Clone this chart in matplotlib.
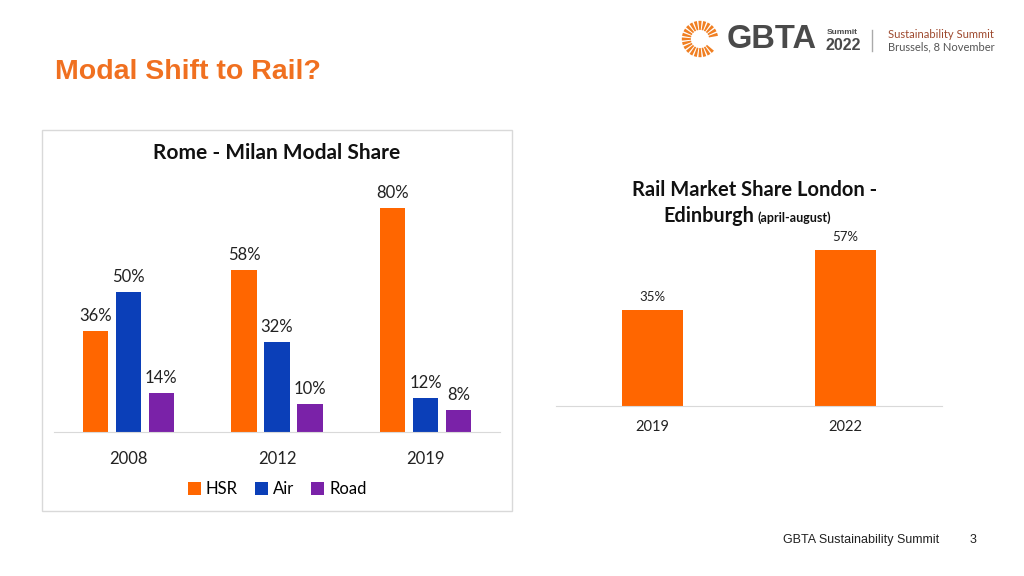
import matplotlib.pyplot as plt
import numpy as np
from matplotlib.patches import Rectangle, Wedge

# data
years = ["2008", "2012", "2019"]
modes = ["HSR", "Air", "Road"]
hsr = [36, 58, 80]
air = [50, 32, 12]
road = [14, 10, 8]

rail_years = ["2019", "2022"]
rail_share = [35, 57]

ORANGE = "#FF6600"
BLUE = "#0B3FB8"
PURPLE = "#7A22A8"
GRID = "#D9D9D9"
W, H = 1024, 576

plt.rcParams['font.family'] = ['Lato', 'DejaVu Sans']

fig = plt.figure(figsize=(W / 100, H / 100), dpi=100)
fig.patch.set_facecolor("white")


def px(x0, y0, x1, y1):
    # pixel box (top-left origin) -> figure fraction rect
    return [x0 / W, 1 - y1 / H, (x1 - x0) / W, (y1 - y0) / H]


# slide title
fig.text(55 / W, 1 - 72 / H, "Modal Shift to Rail?", color="#F07020", fontsize=20.5,
         fontweight="bold", family="Liberation Sans", va="center", ha="left")

# footer
fig.text(783 / W, 1 - 540 / H, "GBTA Sustainability Summit", fontsize=9,
         family="Liberation Sans", color="#222222", va="center")
fig.text(970 / W, 1 - 540 / H, "3", fontsize=9, family="Liberation Sans",
         color="#222222", va="center")

# logo
lax = fig.add_axes(px(680, 18, 720, 60))
lax.set_xlim(-1.1, 1.1)
lax.set_ylim(-1.15, 1.15)
lax.set_aspect("equal")
lax.axis("off")
for a in np.arange(0, 360, 15):
    if -40 < ((a + 180) % 360) - 180 < 10:
        continue
    lax.add_patch(Wedge((0, 0), 1.0, a - 5, a + 5, width=0.5, color="#F07F22", lw=0))
fig.text(727 / W, 1 - 40 / H, "GBTA", fontsize=23.5, fontweight="bold",
         family="Liberation Sans", color="#4A4A4A", va="center")
fig.text(827 / W, 1 - 32 / H, "Summit", fontsize=6, fontweight="bold",
         family="Liberation Sans", color="#4A4A4A", va="center")
fig.text(826 / W, 1 - 45 / H, "2022", fontsize=11.5, fontweight="bold",
         family="Liberation Sans", color="#4A4A4A", va="center")
fig.add_artist(plt.Line2D([872 / W, 872 / W], [1 - 30 / H, 1 - 51 / H],
                          color="#AAAAAA", lw=1))
fig.text(888 / W, 1 - 35 / H, "Sustainability Summit", fontsize=8,
         color="#9E4A2F", va="center")
fig.text(888 / W, 1 - 47 / H, "Brussels, 8 November", fontsize=8,
         color="#555555", va="center")

# left chart frame
fig.add_artist(Rectangle((42 / W, 1 - 511 / H), 470 / W, 381 / H,
                         transform=fig.transFigure, fill=False,
                         edgecolor=GRID, lw=1))

ax = fig.add_axes(px(54, 180, 500, 432))
x = np.arange(len(years))
bw = 0.172
off = 0.222
series = [(hsr, ORANGE), (air, BLUE), (road, PURPLE)]
for i, (vals, col) in enumerate(series):
    bars = ax.bar(x + (i - 1) * off, vals, width=bw, color=col, label=modes[i])
    for b, v in zip(bars, vals):
        ax.annotate(f"{v}%", (b.get_x() + b.get_width() / 2, v),
                    xytext=(0, 5), textcoords="offset points",
                    ha="center", va="bottom", fontsize=12, color="#222222")
ax.set_xlim(-0.5, 2.5)
ax.set_ylim(0, 90)
ax.set_xticks(x)
ax.set_xticklabels(years, fontsize=12, color="#222222")
ax.tick_params(axis="x", length=0, pad=14)
ax.set_yticks([])
for s in ["top", "right", "left"]:
    ax.spines[s].set_visible(False)
ax.spines["bottom"].set_color(GRID)
fig.text(277 / W, 1 - 153 / H, "Rome - Milan Modal Share", fontsize=15,
         fontweight="bold", ha="center", va="center", color="#111111")
fig.legend(loc="center", bbox_to_anchor=(277 / W, 1 - 489 / H), ncol=3,
           frameon=False, fontsize=12, handlelength=0.8, handleheight=0.8,
           handletextpad=0.3, columnspacing=1.0)

# right chart
ax2 = fig.add_axes(px(556, 235, 942, 406))
x2 = np.arange(len(rail_years))
bars = ax2.bar(x2, rail_share, width=0.317, color=ORANGE)
for b, v in zip(bars, rail_share):
    ax2.annotate(f"{v}%", (b.get_x() + b.get_width() / 2, v),
                 xytext=(0, 5), textcoords="offset points",
                 ha="center", va="bottom", fontsize=9.5, color="#222222")
ax2.set_xlim(-0.5, 1.5)
ax2.set_ylim(0, 62.6)
ax2.set_xticks(x2)
ax2.set_xticklabels(rail_years, fontsize=10.5, color="#222222")
ax2.tick_params(axis="x", length=0, pad=10)
ax2.set_yticks([])
for s in ["top", "right", "left"]:
    ax2.spines[s].set_visible(False)
ax2.spines["bottom"].set_color(GRID)
fig.text(755 / W, 1 - 190 / H, "Rail Market Share London -", fontsize=14.5,
         fontweight="bold", ha="center", va="center", color="#111111")
fig.text(754 / W, 1 - 216 / H, "Edinburgh", fontsize=14.3, fontweight="bold",
         ha="right", va="center", color="#111111")
fig.text(758 / W, 1 - 218 / H, "(april-august)", fontsize=9, fontweight="bold",
         ha="left", va="center", color="#111111")

fig.savefig("out.png", dpi=100)
